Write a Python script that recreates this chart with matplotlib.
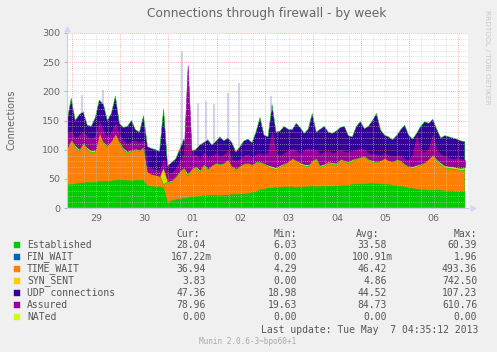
import numpy as np
import matplotlib.pyplot as plt
from matplotlib.patches import Rectangle

# one sample every 2 hours, days counted from Mon Apr 29 00:00
t_start = -0.1
t_step = 1 / 12

established = [40, 40, 41, 42, 43, 44, 43, 44, 45, 45,
               46, 46, 47, 48, 47, 47, 46, 47, 47, 47,
               38, 37, 36, 36, 35, 8, 12, 14, 15, 16,
               17, 19, 19, 20, 21, 21, 22, 22, 21, 22,
               22, 23, 23, 23, 24, 24, 26, 28, 31, 32,
               34, 34, 35, 35, 36, 36, 36, 35, 36, 36,
               36, 37, 36, 37, 37, 37, 37, 38, 38, 39,
               39, 40, 40, 41, 41, 41, 42, 41, 41, 40,
               40, 39, 38, 37, 36, 34, 33, 32, 31, 31,
               30, 30, 30, 30, 29, 29, 29, 28, 28, 28]
fin_wait = [0.0] * 100
time_wait = [60, 80, 63, 56, 71, 56, 52, 52, 93, 67,
             59, 72, 85, 64, 53, 47, 51, 53, 50, 57,
             27, 23, 24, 21, 5, 37, 32, 38, 47, 52,
             38, 47, 51, 42, 53, 43, 50, 55, 53, 54,
             63, 47, 42, 48, 51, 53, 47, 50, 48, 43,
             37, 34, 31, 35, 38, 43, 50, 45, 38, 36,
             35, 43, 48, 33, 35, 40, 38, 36, 43, 41,
             38, 40, 44, 45, 47, 41, 37, 37, 39, 45,
             41, 40, 44, 43, 38, 36, 35, 38, 42, 46,
             54, 61, 52, 44, 40, 39, 38, 38, 36, 37]
syn_sent = [4, 5, 4, 3, 5, 4, 3, 4, 6, 5,
            4, 5, 6, 4, 3, 3, 4, 4, 3, 4,
            3, 3, 3, 3, 28, 3, 3, 4, 4, 22,
            4, 3, 5, 4, 3, 4, 3, 4, 3, 4,
            5, 3, 4, 3, 4, 3, 4, 3, 4, 3,
            3, 4, 3, 4, 5, 3, 4, 3, 4, 3,
            3, 4, 5, 3, 4, 3, 4, 3, 4, 5,
            3, 4, 5, 4, 3, 4, 3, 4, 8, 4,
            3, 4, 3, 4, 3, 4, 3, 4, 5, 3,
            4, 5, 3, 4, 3, 4, 4, 3, 4, 4]
udp = [46, 63, 42, 59, 46, 38, 42, 55, 41, 61,
       41, 39, 54, 29, 35, 43, 49, 30, 30, 50,
       37, 39, 37, 37, 102, 24, 31, 28, 34, 28,
       37, 29, 25, 42, 35, 49, 33, 33, 45, 35,
       30, 39, 27, 31, 36, 38, 35, 49, 72, 47,
       48, 105, 61, 58, 61, 53, 44, 62, 60, 53,
       61, 78, 41, 62, 64, 50, 49, 55, 53, 55,
       44, 38, 51, 58, 45, 54, 68, 80, 46, 36,
       38, 34, 39, 50, 65, 51, 47, 54, 62, 68,
       57, 56, 50, 42, 52, 50, 49, 49, 47, 45]
# assured is a noisy line: low / high of each 2 h slot
assured_lo = [104, 118, 108, 102, 112, 104, 100, 100, 130, 114,
              108, 116, 128, 114, 104, 98, 100, 102, 100, 106,
              62, 58, 57, 55, 72, 46, 48, 55, 64, 70,
              60, 68, 72, 66, 76, 68, 74, 78, 76, 78,
              84, 72, 68, 73, 77, 78, 75, 80, 80, 77,
              74, 72, 70, 74, 77, 80, 86, 82, 78, 76,
              75, 82, 86, 74, 76, 80, 78, 78, 84, 82,
              80, 84, 86, 88, 90, 84, 82, 80, 82, 86,
              82, 80, 84, 82, 76, 72, 72, 74, 76, 79,
              85, 92, 84, 78, 74, 72, 72, 70, 70, 70]
assured_hi = [128, 130, 120, 125, 130, 122, 118, 124, 148, 132,
              122, 130, 145, 125, 115, 110, 114, 116, 112, 116,
              70, 68, 66, 64, 84, 58, 60, 68, 80, 92,
              245, 88, 92, 84, 95, 86, 90, 94, 88, 92,
              98, 84, 80, 84, 90, 92, 86, 92, 94, 90,
              96, 130, 92, 90, 94, 98, 102, 98, 92, 100,
              102, 100, 100, 92, 96, 98, 94, 96, 100, 96,
              96, 98, 100, 102, 100, 94, 92, 92, 90, 94,
              90, 88, 90, 90, 84, 82, 92, 125, 98, 96,
              102, 125, 98, 92, 88, 86, 84, 86, 84, 82]
nated = [0.0] * 100

# short faint udp peaks (day, top value)
peak_day = [0.21, 0.64, 2.28, 2.61, 2.78, 2.95, 3.24, 3.46, 4.13]
peak_top = [194, 202, 270, 180, 183, 178, 197, 215, 192]

day_labels = ['29', '30', '01', '02', '03', '04', '05', '06']

names = ['Established', 'FIN_WAIT', 'TIME_WAIT', 'SYN_SENT',
         'UDP connections', 'Assured', 'NATed']
colors = ['#00CC00', '#0066B3', '#FF8000', '#FFCC00',
          '#330099', '#990099', '#CCFF00']
cur = ['28.04', '167.22m', '36.94', '3.83', '47.36', '78.96', '0.00']
mins = ['6.03', '0.00', '4.29', '0.00', '18.98', '19.63', '0.00']
avgs = ['33.58', '100.91m', '46.42', '4.86', '44.52', '84.73', '0.00']
maxs = ['60.39', '1.96', '493.36', '742.50', '107.23', '610.76', '0.00']

W, H = 497, 352
TXT = '#555555'


def fx(x):
    return x / W


def fy(y):
    return 1 - y / H


t = t_start + t_step * np.arange(len(established))

fig = plt.figure(figsize=(W / 100, H / 100), dpi=100, facecolor='#F0F0F0')
ax = fig.add_axes([fx(67), fy(208), (468 - 67) / W, (208 - 33) / H])
ax.set_facecolor('white')

layers = [established, fin_wait, time_wait, syn_sent, udp]
layer_cols = [colors[0], colors[1], colors[2], colors[3], colors[4]]
ax.stackplot(t, *layers, colors=layer_cols, edgecolors=layer_cols,
             linewidth=0.4, zorder=2)

top = np.sum(np.array(layers, dtype=float), axis=0)
base = np.interp(peak_day, t, top)
ax.vlines(peak_day, base, peak_top, color='#A898D8', lw=1.5, alpha=0.45,
          zorder=2)

ax.fill_between(t, assured_lo, assured_hi, color=colors[5], lw=0.4,
                zorder=3)
ax.plot(t, nated, color=colors[6], lw=1.0, zorder=3)

# grid drawn over the areas, rrdtool style
dots = (0, (1, 1.5))
for v in range(10, 301, 10):
    if v % 50:
        ax.axhline(v, color='#C8C8C8', lw=0.6, ls=dots, alpha=0.8, zorder=4)
for d in np.arange(0, 8.3, 0.25):
    if d % 1:
        ax.axvline(d, color='#C8C8C8', lw=0.6, ls=dots, alpha=0.8, zorder=4)
for v in range(50, 301, 50):
    ax.axhline(v, color='#F08080', lw=0.6, ls=dots, alpha=0.8, zorder=4)
for d in range(0, 9):
    ax.axvline(d, color='#F08080', lw=0.6, ls=dots, alpha=0.8, zorder=4)

ax.set_xlim(-0.104, 8.215)
ax.set_ylim(0, 300)
ax.set_yticks(range(0, 301, 50))
ax.set_xticks(np.arange(len(day_labels)) + 0.5)
ax.set_xticklabels(day_labels)
ax.tick_params(axis='y', length=2, width=0.6, color='#AAAAAA', pad=3,
               labelsize=6.8, labelcolor='#666666')
ax.tick_params(axis='x', length=0, pad=4, labelsize=6.8,
               labelcolor='#666666')
for s in ['top', 'right']:
    ax.spines[s].set_visible(False)
for s in ['left', 'bottom']:
    ax.spines[s].set_color('#C8CCE8')
    ax.spines[s].set_linewidth(0.8)
    ax.spines[s].set_zorder(5)
ax.plot(0, 1.025, marker='^', ms=3.5, color='#CFD6F8', transform=ax.transAxes,
        clip_on=False)
ax.plot(1.012, 0, marker='>', ms=3.5, color='#CFD6F8', transform=ax.transAxes,
        clip_on=False)

fig.text(fx(267), fy(13), 'Connections through firewall - by week',
         ha='center', va='center', fontsize=8.8, color='#666666')
fig.text(fx(12), fy(120), 'Connections', rotation=90, ha='center',
         va='center', fontsize=7, color='#666666')
fig.text(fx(487), fy(57), 'RRDTOOL / TOBI OETIKER', rotation=270,
         ha='center', va='center', fontsize=5.3, color='#C8C8C8')

# legend block in monospace
mono = 'DejaVu Sans Mono'
fs = 7
cw = 0.602 * fs * 100 / 72
heads = [('Cur:', 176), ('Min:', 274), ('Avg:', 356), ('Max:', 454)]
for h, x in heads:
    fig.text(fx(x), fy(234), h, family=mono, fontsize=fs, color=TXT,
             va='center')
col_edge = [212, 303, 393, 483]
for i, name in enumerate(names):
    y = 245 + 12 * i
    fig.add_artist(Rectangle((fx(14), fy(y + 3)), 6 / W, 6 / H,
                             transform=fig.transFigure, facecolor=colors[i],
                             edgecolor=colors[i], lw=0.3))
    fig.text(fx(27), fy(y), name, family=mono, fontsize=fs, color=TXT,
             va='center')
    for vals, edge in zip([cur, mins, avgs, maxs], col_edge):
        s = vals[i]
        x = edge if s.endswith('m') else edge - cw
        fig.text(fx(x), fy(y), s, family=mono, fontsize=fs, color=TXT,
                 va='center', ha='right')

fig.text(fx(478), fy(330), 'Last update: Tue May  7 04:35:12 2013',
         family=mono, fontsize=fs, color=TXT, va='center', ha='right')
fig.text(fx(248), fy(341), 'Munin 2.0.6-3~bpo60+1', family=mono,
         fontsize=5.6, color='#AAAAAA', va='center', ha='center')

fig.savefig('out.png', dpi=100, facecolor=fig.get_facecolor())
